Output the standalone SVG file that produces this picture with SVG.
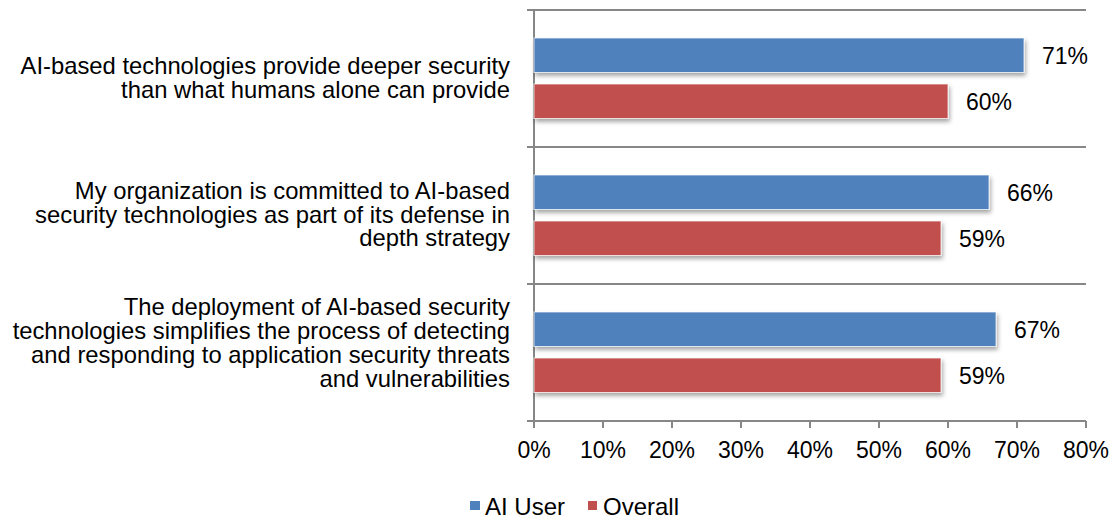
<svg xmlns="http://www.w3.org/2000/svg" width="1114" height="519" viewBox="0 0 1114 519">
<style>
text{font-family:"Liberation Sans",Arial,sans-serif;fill:#000;font-size:23px}
.cat{text-anchor:end;font-size:23.8px}
.tick{text-anchor:middle}
.grid{stroke:#878787;stroke-width:2;fill:none}
.blue{fill:#4F81BD;stroke:#fff;stroke-opacity:0.7;stroke-width:1;filter:url(#sh)}
.red{fill:#C0504D;stroke:#fff;stroke-opacity:0.7;stroke-width:1;filter:url(#sh)}
</style>
<defs>
<filter id="sh" x="-5%" y="-30%" width="110%" height="180%">
<feDropShadow dx="1.5" dy="3" stdDeviation="2" flood-color="#000" flood-opacity="0.35"/>
</filter>
</defs>
<rect width="1114" height="519" fill="#fff"/>
<g id="axes">
<path class="grid" d="M527 10H1086M527 147H1086M527 284H1086M527 421H1086M534 10V428"/>
<path class="grid" d="M603 421V428M672 421V428M741 421V428M810 421V428M879 421V428M948 421V428M1017 421V428M1086 421V428"/>
</g>
<g id="ticks">
<text class="tick" x="534" y="458">0%</text>
<text class="tick" x="603" y="458">10%</text>
<text class="tick" x="672" y="458">20%</text>
<text class="tick" x="741" y="458">30%</text>
<text class="tick" x="810" y="458">40%</text>
<text class="tick" x="879" y="458">50%</text>
<text class="tick" x="948" y="458">60%</text>
<text class="tick" x="1017" y="458">70%</text>
<text class="tick" x="1086" y="458">80%</text>
</g>
<g id="cat1">
<text class="cat"><tspan x="510" y="74">AI-based technologies provide deeper security</tspan><tspan x="510" y="98">than what humans alone can provide</tspan></text>
<rect class="blue" x="534" y="38" width="490" height="34.5"/>
<rect class="red" x="534" y="84" width="414" height="34.5"/>
<text x="1042" y="64">71%</text>
<text x="966" y="110">60%</text>
</g>
<g id="cat2">
<text class="cat"><tspan x="510" y="199">My organization is committed to AI-based</tspan><tspan x="510" y="222.5">security technologies as part of its defense in</tspan><tspan x="510" y="246">depth strategy</tspan></text>
<rect class="blue" x="534" y="175" width="455" height="34.5"/>
<rect class="red" x="534" y="221" width="407" height="34.5"/>
<text x="1007" y="201">66%</text>
<text x="959" y="247">59%</text>
</g>
<g id="cat3">
<text class="cat"><tspan x="510" y="315">The deployment of AI-based security</tspan><tspan x="510" y="339">technologies simplifies the process of detecting</tspan><tspan x="510" y="363">and responding to application security threats</tspan><tspan x="510" y="387">and vulnerabilities</tspan></text>
<rect class="blue" x="534" y="312" width="462" height="34.5"/>
<rect class="red" x="534" y="358" width="407" height="34.5"/>
<text x="1014" y="338">67%</text>
<text x="959" y="384">59%</text>
</g>
<g id="legend">
<rect x="470" y="501" width="10" height="9" fill="#4F81BD"/>
<text x="485" y="515" style="font-size:24px">AI User</text>
<rect x="588" y="501" width="9" height="9" fill="#C0504D"/>
<text x="603" y="515" style="font-size:24px">Overall</text>
</g>
</svg>
